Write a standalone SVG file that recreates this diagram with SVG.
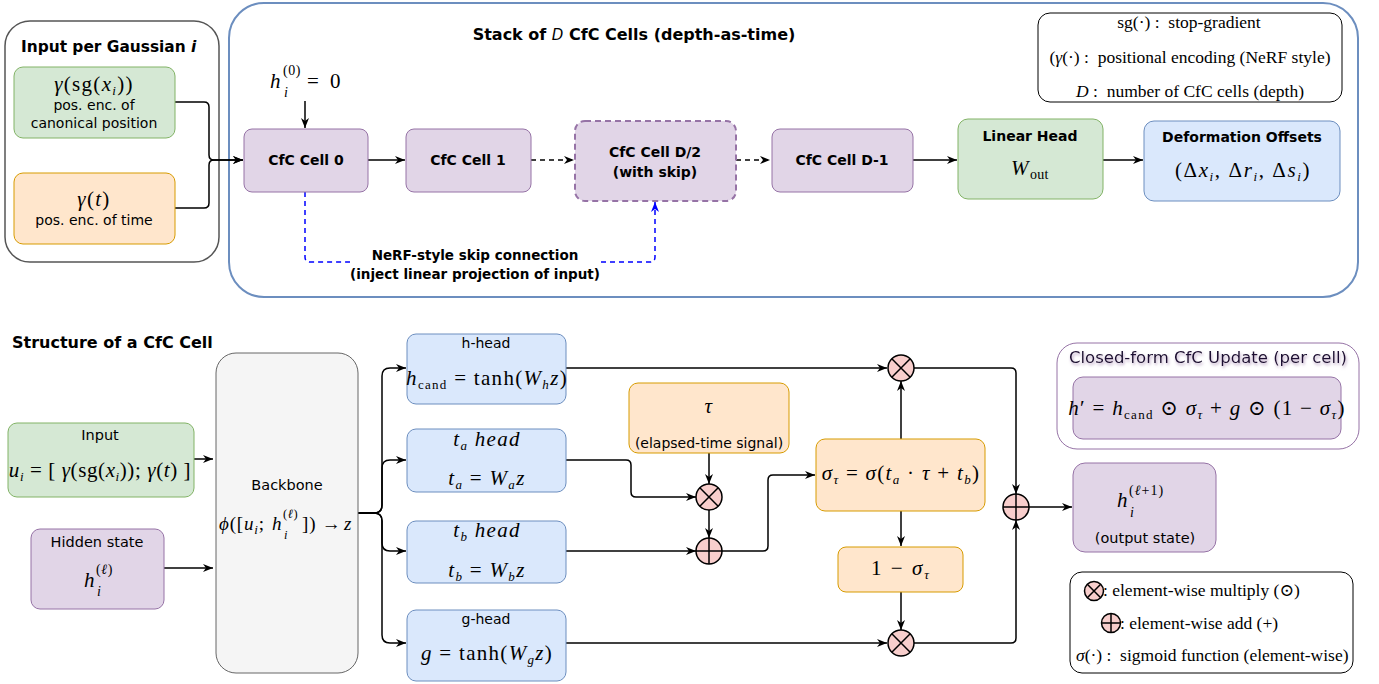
<svg xmlns="http://www.w3.org/2000/svg" width="1379" height="684" viewBox="0 0 1379 684">
<style>
.t{font-family:"DejaVu Sans",sans-serif;font-size:14px;fill:#000}
.b{font-weight:bold}
.c{text-anchor:middle}
.m{font-family:"Liberation Serif","DejaVu Serif",serif;font-size:21px;letter-spacing:1.3px;fill:#000}
.i{font-style:italic}
.s{font-size:13px}
.sup{font-size:14px;letter-spacing:0.6px}
.lg{font-family:"Liberation Serif","DejaVu Serif",serif;font-size:17.5px;fill:#000}
.green{fill:#d5e8d4;stroke:#82b366;stroke-width:1}
.orange{fill:#ffe6cc;stroke:#d79b00;stroke-width:1}
.purple{fill:#e1d5e7;stroke:#9673a6;stroke-width:1}
.blue{fill:#dae8fc;stroke:#6c8ebf;stroke-width:1}
.ln{fill:none;stroke:#000;stroke-width:1.5}
.dash{stroke-dasharray:5,4}
.skip{fill:none;stroke:#0000ff;stroke-width:1.5;stroke-dasharray:5,4}
</style>
<defs>
<marker id="arr" viewBox="0 0 10 10" refX="10" refY="5" markerWidth="10" markerHeight="10" markerUnits="userSpaceOnUse" orient="auto"><path d="M0,1 L10,5 L0,9 L3,5 z" fill="#000"/></marker>
<marker id="arrB" viewBox="0 0 10 10" refX="10" refY="5" markerWidth="10" markerHeight="10" markerUnits="userSpaceOnUse" orient="auto"><path d="M0,1 L10,5 L0,9 L3,5 z" fill="#0000ff"/></marker>
<g id="mul"><circle r="13" fill="#f8cecc" stroke="#000" stroke-width="1.5"/><path d="M-9.2,-9.2 L9.2,9.2 M-9.2,9.2 L9.2,-9.2" stroke="#000" stroke-width="1.5"/></g>
<g id="add"><circle r="13" fill="#f8cecc" stroke="#000" stroke-width="1.5"/><path d="M-13,0 H13 M0,-13 V13" stroke="#000" stroke-width="1.5"/></g>
<g id="mulS"><circle r="9.5" fill="#f8cecc" stroke="#000" stroke-width="1.5"/><path d="M-6.7,-6.7 L6.7,6.7 M-6.7,6.7 L6.7,-6.7" stroke="#000" stroke-width="1.5"/></g>
<g id="addS"><circle r="9.5" fill="#f8cecc" stroke="#000" stroke-width="1.5"/><path d="M-9.5,0 H9.5 M0,-9.5 V9.5" stroke="#000" stroke-width="1.5"/></g>
<filter id="glow" x="-5%" y="-40%" width="110%" height="180%"><feDropShadow dx="1" dy="2" stdDeviation="1.5" flood-color="#9673a6" flood-opacity="0.7"/></filter>
</defs>

<!-- containers -->
<g id="input-container">
<rect x="5" y="21" width="214" height="241" rx="25" fill="#fff" stroke="#555" stroke-width="1.5"/>
<text class="t b" x="21" y="52" style="font-size:15.4px">Input per Gaussian <tspan font-style="italic">i</tspan></text>
</g>
<g id="stack-container">
<rect x="229" y="3" width="1129" height="294" rx="35" fill="#fff" stroke="#6c8ebf" stroke-width="2"/>
<text class="t b c" x="634" y="40" style="font-size:16px">Stack of <tspan font-style="italic" font-weight="normal" font-size="15">D</tspan> CfC Cells (depth-as-time)</text>
</g>

<!-- connectors -->
<g id="connectors">
<path class="ln" d="M175,102 H204 Q209,102 209,107 V155 Q209,160 214,160 H243" marker-end="url(#arr)"/>
<path class="ln" d="M175,208 H204 Q209,208 209,203 V165 Q209,160 214,160 H243" marker-end="url(#arr)"/>
<path class="ln" d="M305,101 V128" marker-end="url(#arr)"/>
<path class="ln" d="M368,160 H405" marker-end="url(#arr)"/>
<path class="ln dash" d="M531,160 H574" marker-end="url(#arr)"/>
<path class="ln dash" d="M736,160 H770" marker-end="url(#arr)"/>
<path class="ln" d="M913,160 H957" marker-end="url(#arr)"/>
<path class="ln" d="M1103,160 H1143" marker-end="url(#arr)"/>
<path class="skip" d="M305,192 V257 Q305,262 310,262 H350"/>
<path class="skip" d="M601,262 H650 Q655,262 655,257 V202" marker-end="url(#arrB)"/>

<path class="ln" d="M194,459 H213" marker-end="url(#arr)"/>
<path class="ln" d="M164,568 H213" marker-end="url(#arr)"/>
<path class="ln" d="M358,513 H374 Q382,513 382,505 V376 Q382,368 390,368 H406" marker-end="url(#arr)"/>
<path class="ln" d="M358,513 H374 Q382,513 382,505 V468 Q382,460 390,460 H406" marker-end="url(#arr)"/>
<path class="ln" d="M358,513 H374 Q382,513 382,521 V543 Q382,551 390,551 H406" marker-end="url(#arr)"/>
<path class="ln" d="M358,513 H374 Q382,513 382,521 V635 Q382,643 390,643 H406" marker-end="url(#arr)"/>
<path class="ln" d="M566,368 H887" marker-end="url(#arr)"/>
<path class="ln" d="M566,460 H626 Q631,460 631,465 V492 Q631,497 636,497 H696" marker-end="url(#arr)"/>
<path class="ln" d="M709,453 V484" marker-end="url(#arr)"/>
<path class="ln" d="M709,510 V538" marker-end="url(#arr)"/>
<path class="ln" d="M566,551 H696" marker-end="url(#arr)"/>
<path class="ln" d="M722,551 H763 Q768,551 768,546 V480 Q768,475 773,475 H815" marker-end="url(#arr)"/>
<path class="ln" d="M901,439 V381" marker-end="url(#arr)"/>
<path class="ln" d="M901,511 V546" marker-end="url(#arr)"/>
<path class="ln" d="M901,592 V630" marker-end="url(#arr)"/>
<path class="ln" d="M566,643 H887" marker-end="url(#arr)"/>
<path class="ln" d="M914,368 H1011 Q1016,368 1016,373 V494" marker-end="url(#arr)"/>
<path class="ln" d="M914,643 H1011 Q1016,643 1016,638 V520" marker-end="url(#arr)"/>
<path class="ln" d="M1029,507 H1072" marker-end="url(#arr)"/>
</g>

<!-- top nodes -->
<g id="pos-enc-x">
<rect class="green" x="14" y="67" width="161" height="71" rx="9"/>
<text class="m c" x="94" y="91"><tspan class="i">γ</tspan>(sg(<tspan class="i">x</tspan><tspan class="i s" dy="4">i</tspan><tspan dy="-4">))</tspan></text>
<text class="t c" x="94" y="110">pos. enc. of</text>
<text class="t c" x="94" y="128">canonical position</text>
</g>
<g id="pos-enc-t">
<rect class="orange" x="14" y="173" width="161" height="71" rx="9"/>
<text class="m c" x="94" y="206"><tspan class="i">γ</tspan>(<tspan class="i">t</tspan>)</text>
<text class="t c" x="94" y="225">pos. enc. of time</text>
</g>
<g id="h0">
<text class="m i" x="270" y="88">h</text>
<text class="m sup" x="283" y="75">(0)</text>
<text class="m sup i" x="284" y="97">i</text>
<text class="m" x="307" y="88">=</text>
<text class="m" x="330" y="88">0</text>
</g>
<g id="cell0">
<rect class="purple" x="244" y="129" width="124" height="63" rx="8"/>
<text class="t b c" x="306" y="165">CfC Cell 0</text>
</g>
<g id="cell1">
<rect class="purple" x="406" y="129" width="125" height="63" rx="8"/>
<text class="t b c" x="468" y="165">CfC Cell 1</text>
</g>
<g id="cellD2">
<rect x="575" y="121" width="161" height="80" rx="10" fill="#e1d5e7" stroke="#9673a6" stroke-width="2" stroke-dasharray="6,4"/>
<text class="t b c" x="655" y="157">CfC Cell D/2</text>
<text class="t b c" x="655" y="177">(with skip)</text>
</g>
<g id="cellD1">
<rect class="purple" x="772" y="129" width="141" height="63" rx="8"/>
<text class="t b c" x="842" y="165">CfC Cell D-1</text>
</g>
<g id="linear-head">
<rect class="green" x="958" y="119" width="145" height="80" rx="10"/>
<text class="t b c" x="1030" y="141">Linear Head</text>
<text class="m i" x="1011" y="175" style="letter-spacing:0">W</text>
<text class="m" x="1030" y="179" style="font-size:14px;letter-spacing:0.3px">out</text>
</g>
<g id="deformation">
<rect class="blue" x="1144" y="121" width="196" height="80" rx="10"/>
<text class="t b c" x="1242" y="142">Deformation Offsets</text>
<text class="m c" x="1243" y="177" style="font-size:21px;letter-spacing:1.6px">(Δ<tspan class="i">x</tspan><tspan class="i s" dy="4">i</tspan><tspan dy="-4">,  Δ</tspan><tspan class="i">r</tspan><tspan class="i s" dy="4">i</tspan><tspan dy="-4">,  Δ</tspan><tspan class="i">s</tspan><tspan class="i s" dy="4">i</tspan><tspan dy="-4">)</tspan></text>
</g>
<g id="legend-top">
<rect x="1038" y="13" width="304" height="89" rx="12" fill="#fff" stroke="#000" stroke-width="1"/>
<text class="lg c" x="1189" y="28">sg(·) :&#160; stop-gradient</text>
<text class="lg c" x="1190" y="63">(<tspan class="i">γ</tspan>(·) :&#160; positional encoding (NeRF style)</text>
<text class="lg c" x="1190" y="97"><tspan class="i">D</tspan> :&#160; number of CfC cells (depth)</text>
</g>
<g id="skip-label">
<text class="t b c" x="475" y="260" style="font-size:13.5px">NeRF-style skip connection</text>
<text class="t b c" x="475" y="279" style="font-size:13.5px">(inject linear projection of input)</text>
</g>

<!-- bottom -->
<text class="t b" x="12" y="348" style="font-size:16px">Structure of a CfC Cell</text>
<g id="input-u">
<rect class="green" x="8" y="423" width="186" height="74" rx="9"/>
<text class="t c" x="100" y="440" style="font-size:14.5px">Input</text>
<text class="m c" x="100" y="477" style="letter-spacing:0.6px"><tspan class="i">u</tspan><tspan class="i s" dy="4">i</tspan><tspan dy="-4"> = [ </tspan><tspan class="i">γ</tspan>(sg(<tspan class="i">x</tspan><tspan class="i s" dy="4">i</tspan><tspan dy="-4">)); </tspan><tspan class="i">γ</tspan>(<tspan class="i">t</tspan>) ]</text>
</g>
<g id="hidden-state">
<rect class="purple" x="31" y="529" width="133" height="80" rx="9"/>
<text class="t c" x="97" y="547" style="font-size:14.5px">Hidden state</text>
<text class="m i" x="84" y="587">h</text>
<text class="m sup" x="96" y="574">(<tspan class="i">ℓ</tspan>)</text>
<text class="m sup i" x="97" y="596">i</text>
</g>
<g id="backbone">
<rect x="216" y="353" width="142" height="320" rx="20" fill="#f5f5f5" stroke="#666" stroke-width="1"/>
<text class="t c" x="287" y="490" style="font-size:14.5px">Backbone</text>
<text class="m" y="530" style="font-size:19px;letter-spacing:0.8px"><tspan x="219" class="i">ϕ</tspan>([<tspan class="i">u</tspan><tspan class="i s" dy="4">i</tspan><tspan dy="-4">;</tspan><tspan x="272" class="i">h</tspan></text>
<text class="m sup" x="283" y="518" style="font-size:12.5px">(<tspan class="i">ℓ</tspan>)</text>
<text class="m sup i" x="284" y="539" style="font-size:12.5px">i</text>
<text class="m" y="530" style="font-size:19px;letter-spacing:0.8px"><tspan x="302">]) →</tspan><tspan x="344" class="i">z</tspan></text>
</g>
<g id="h-head">
<rect class="blue" x="407" y="334" width="159" height="70" rx="9"/>
<text class="t c" x="486" y="348">h-head</text>
<text class="m c" x="487" y="385"><tspan class="i">h</tspan><tspan class="s" dy="4">cand</tspan><tspan dy="-4"> = tanh(</tspan><tspan class="i">W</tspan><tspan class="i s" dy="4">h</tspan><tspan class="i" dy="-4">z</tspan>)</text>
</g>
<g id="ta-head">
<rect class="blue" x="407" y="429" width="159" height="63" rx="9"/>
<text class="m c i" x="487" y="446">t<tspan class="s" dy="4">a</tspan><tspan dy="-4"> head</tspan></text>
<text class="m c" x="487" y="485"><tspan class="i">t</tspan><tspan class="i s" dy="4">a</tspan><tspan dy="-4"> = </tspan><tspan class="i">W</tspan><tspan class="i s" dy="4">a</tspan><tspan class="i" dy="-4">z</tspan></text>
</g>
<g id="tb-head">
<rect class="blue" x="407" y="521" width="159" height="62" rx="9"/>
<text class="m c i" x="487" y="537">t<tspan class="s" dy="4">b</tspan><tspan dy="-4"> head</tspan></text>
<text class="m c" x="487" y="577"><tspan class="i">t</tspan><tspan class="i s" dy="4">b</tspan><tspan dy="-4"> = </tspan><tspan class="i">W</tspan><tspan class="i s" dy="4">b</tspan><tspan class="i" dy="-4">z</tspan></text>
</g>
<g id="g-head">
<rect class="blue" x="407" y="610" width="159" height="71" rx="9"/>
<text class="t c" x="486" y="624">g-head</text>
<text class="m c" x="487" y="660"><tspan class="i">g</tspan> = tanh(<tspan class="i">W</tspan><tspan class="i s" dy="4">g</tspan><tspan class="i" dy="-4">z</tspan>)</text>
</g>
<g id="tau">
<rect class="orange" x="629" y="383" width="160" height="70" rx="9"/>
<text class="m c i" x="709" y="413">τ</text>
<text class="t c" x="709" y="448">(elapsed-time signal)</text>
</g>
<g id="mul-ta"><use href="#mul" x="709" y="497"/></g>
<g id="add-tb"><use href="#add" x="709" y="551"/></g>
<g id="sigma">
<rect class="orange" x="816" y="439" width="169" height="72" rx="9"/>
<text class="m c" x="901" y="480"><tspan class="i">σ</tspan><tspan class="i s" dy="4">τ</tspan><tspan dy="-4"> = </tspan><tspan class="i">σ</tspan>(<tspan class="i">t</tspan><tspan class="i s" dy="4">a</tspan><tspan dy="-4"> · </tspan><tspan class="i">τ</tspan> + <tspan class="i">t</tspan><tspan class="i s" dy="4">b</tspan><tspan dy="-4">)</tspan></text>
</g>
<g id="one-minus">
<rect class="orange" x="838" y="547" width="125" height="45" rx="8"/>
<text class="m c" x="901" y="575" style="letter-spacing:2px">1 − <tspan class="i">σ</tspan><tspan class="i s" dy="4">τ</tspan></text>
</g>
<g id="mul-h"><use href="#mul" x="901" y="368"/></g>
<g id="mul-g"><use href="#mul" x="901" y="643"/></g>
<g id="add-out"><use href="#add" x="1016" y="507"/></g>
<g id="output-state">
<rect class="purple" x="1073" y="463" width="143" height="89" rx="12"/>
<text class="m i" x="1117" y="507">h</text>
<text class="m sup" x="1129" y="495" style="letter-spacing:1px">(<tspan class="i">ℓ</tspan>+1)</text>
<text class="m sup i" x="1130" y="517">i</text>
<text class="t c" x="1145" y="543" style="font-size:14.5px">(output state)</text>
</g>
<g id="closed-form">
<rect x="1057" y="343" width="302" height="106" rx="20" fill="#fff" stroke="#9673a6" stroke-width="1"/>
<text class="t c" x="1208" y="363" style="font-size:16.5px;fill:#1a1030" filter="url(#glow)">Closed-form CfC Update (per cell)</text>
<rect class="purple" x="1073" y="377" width="268" height="62" rx="10"/>
<text class="m c" x="1207" y="415"><tspan class="i">h</tspan>′ = <tspan class="i">h</tspan><tspan class="s" dy="4">cand</tspan><tspan dy="-4"> ⊙ </tspan><tspan class="i">σ</tspan><tspan class="i s" dy="4">τ</tspan><tspan dy="-4"> + </tspan><tspan class="i">g</tspan> ⊙ (1 − <tspan class="i">σ</tspan><tspan class="i s" dy="4">τ</tspan><tspan dy="-4">)</tspan></text>
</g>
<g id="legend-bottom">
<rect x="1070" y="572" width="283" height="101" rx="12" fill="#fff" stroke="#000" stroke-width="1"/>
<use href="#mulS" x="1094" y="591"/>
<text class="lg" x="1103" y="596">: element-wise multiply (⊙)</text>
<use href="#addS" x="1111" y="623"/>
<text class="lg" x="1120" y="629">: element-wise add (+)</text>
<text class="lg" x="1076" y="661"><tspan class="i">σ</tspan>(·) :&#160; sigmoid function (element-wise)</text>
</g>
</svg>
